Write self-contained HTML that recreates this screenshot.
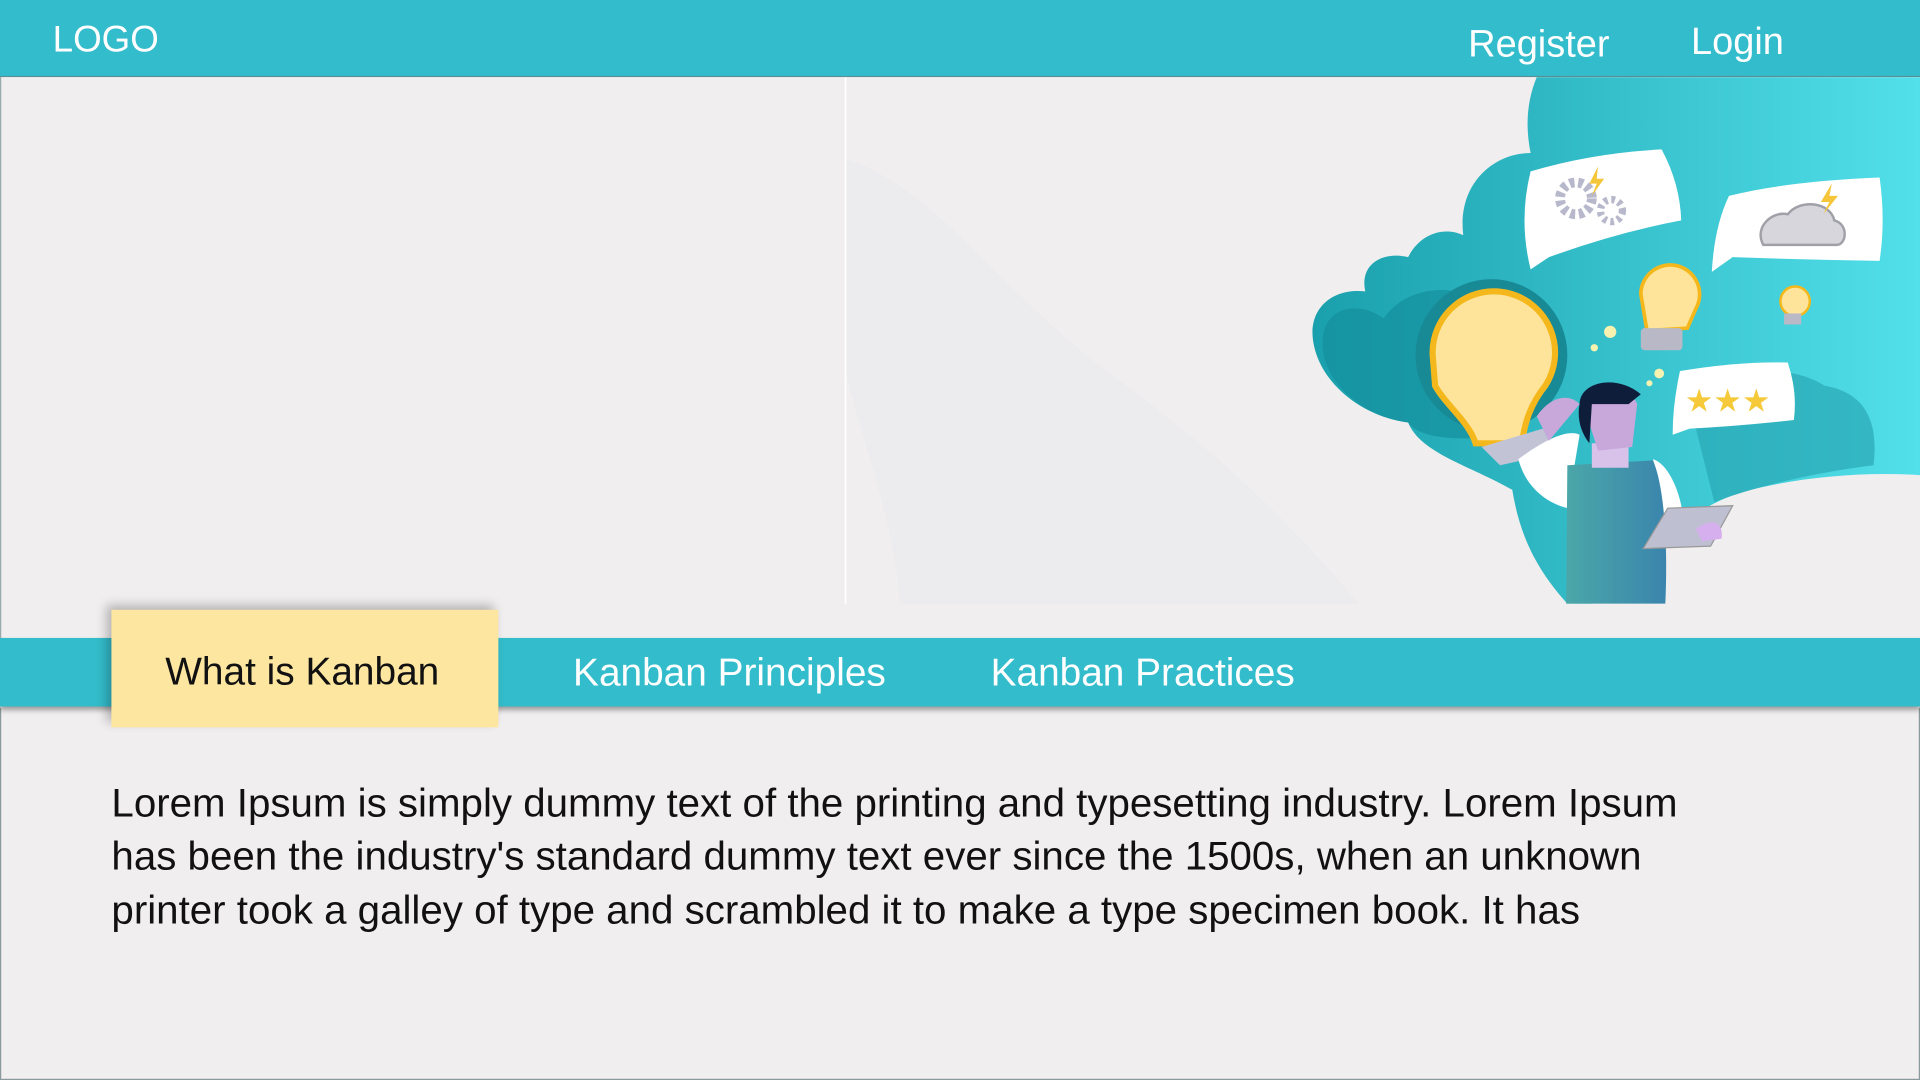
<!DOCTYPE html>
<html><head><meta charset="utf-8"><style>
html,body{margin:0;padding:0;width:1920px;height:1080px;overflow:hidden;background:#f0eeee}
#w{position:absolute;left:0;top:0;width:1568px;height:882px;transform:scale(1.22449);transform-origin:0 0;font-family:"Segoe UI","Liberation Sans",sans-serif;}
.hdr{position:absolute;left:0;top:0;width:1568px;height:62px;background:#33bccb;border-bottom:1px solid #5a8e95}
.t{position:absolute;color:#fff;font-size:31px;white-space:nowrap;z-index:3}
.hero{position:absolute;left:0;top:63px;width:1567px;height:458px;background:#f0eeee;border-left:1px solid #9aa;}
.nav{position:absolute;left:0;top:521px;width:1568px;height:56px;background:#33bccb;box-shadow:0 3px 4px rgba(0,0,0,.35);z-index:1}
.tab{position:absolute;left:91px;top:498px;width:316px;height:96px;background:#fde6a0;box-shadow:-4px -4px 8px rgba(0,0,0,.25);z-index:2}
.content{position:absolute;left:0;top:578px;width:1566px;height:303px;background:#f0eeee;border:1px solid #8a9a9c;border-top:none}
.p{position:absolute;left:91px;top:634px;font-size:32.9px;line-height:43.3px;color:#111;white-space:nowrap}
</style></head><body><div id="w">
<div class="hdr"></div>
<div class="t" style="left:43px;top:16px;font-size:30px">LOGO</div>
<div class="t" style="left:1199px;top:18px">Register</div>
<div class="t" style="left:1381px;top:16px">Login</div>
<div class="hero"></div>
<svg style="position:absolute;left:0;top:63px" width="1568" height="458" viewBox="0 63 1568 458">
<defs>
<linearGradient id="g1" x1="0" y1="0" x2="1" y2="0"><stop offset="0" stop-color="#1aa0ad"/><stop offset="1" stop-color="#52e0ea"/></linearGradient>
<linearGradient id="g2" x1="0" y1="0" x2="1" y2="0"><stop offset="0" stop-color="#4aa7a8"/><stop offset="1" stop-color="#3b85ad"/></linearGradient>
</defs>
<path d="M690 130 C760 150 820 240 900 300 C980 360 1030 400 1110 493 L735 493 C730 420 700 350 690 300Z" fill="#ececee"/>
<line x1="690.5" y1="63" x2="690.5" y2="493" stroke="#fff" stroke-width="1.5"/>
<path d="M1255 63 L1568 63 L1568 388 C1520 385 1470 390 1430 400 C1400 408 1380 420 1370 440 L1300 493 L1280 493 C1250 460 1240 430 1235 400 C1200 380 1160 370 1150 345 C1110 340 1075 310 1072 275 C1070 250 1090 235 1115 238 C1110 215 1130 205 1150 210 C1160 190 1180 185 1195 192 C1190 150 1220 125 1250 125 C1245 100 1248 80 1255 63Z" fill="url(#g1)"/>
<path d="M1080 280 C1080 250 1110 245 1130 260 C1150 230 1200 230 1215 255 L1240 355 C1200 360 1160 360 1150 345 C1110 340 1080 310 1080 280Z" fill="#148e9c" opacity=".7"/>
<path d="M1380 330 C1400 300 1460 295 1490 315 C1520 320 1535 340 1530 380 C1490 385 1440 395 1400 410Z" fill="#2aa8b5" opacity=".7"/>
<circle cx="1218" cy="290" r="62" fill="#188a96"/>
<path d="M1170 290 A50 50 0 1 1 1262 315 C1250 330 1245 345 1243 362 L1205 362 C1200 345 1180 330 1172 315Z" fill="#fee49a" stroke="#f4b81c" stroke-width="5"/>
<path d="M1210 365 L1260 350 L1270 370 L1225 380Z" fill="#c2c4d6"/>
<path d="M1250 140 Q1300 125 1357 122 Q1372 150 1373 180 Q1320 190 1265 210 L1250 220 Q1240 180 1250 140Z" fill="#fff"/>
<circle cx="1287" cy="162" r="13" fill="none" stroke="#b8b8cc" stroke-width="8" stroke-dasharray="4 3"/>
<circle cx="1316" cy="172" r="9" fill="none" stroke="#b8b8cc" stroke-width="6" stroke-dasharray="3 3"/>
<path d="M1305 136 L1298 150 L1304 150 L1300 160 L1310 146 L1304 146Z" fill="#f5c53a"/>
<path d="M1412 160 Q1460 148 1535 145 Q1540 180 1535 213 Q1470 212 1415 210 L1398 222 Q1400 185 1412 160Z" fill="#fff"/>
<path d="M1440 200 C1432 185 1448 172 1460 175 C1470 162 1495 165 1498 180 C1510 183 1508 200 1500 200Z" fill="#d6d6dc" stroke="#a0a0a8" stroke-width="2"/>
<path d="M1496 150 L1487 165 L1494 165 L1489 175 L1501 160 L1494 160Z" fill="#f5c53a"/>
<path d="M1372 303 Q1420 295 1460 296 Q1468 320 1465 343 Q1420 348 1380 350 L1366 355 Q1366 330 1372 303Z" fill="#fff"/>
<text x="1376" y="336" font-size="26" fill="#f5c93a" font-family="DejaVu Sans">★★★</text>
<path d="M1340 240 A24 24 0 1 1 1385 252 L1378 268 L1345 270Z" fill="#fee49a" stroke="#f4b81c" stroke-width="3"/>
<rect x="1340" y="268" width="34" height="18" rx="3" fill="#b8b8c6"/>
<circle cx="1466" cy="246" r="12" fill="#fee49a" stroke="#f4b81c" stroke-width="2"/>
<rect x="1457" y="256" width="14" height="9" fill="#b8b8c6"/>
<circle cx="1315" cy="271" r="5" fill="#f7f2b0"/><circle cx="1302" cy="284" r="3" fill="#f7f2b0"/>
<circle cx="1355" cy="305" r="4" fill="#f7f2b0"/><circle cx="1347" cy="313" r="2.5" fill="#f7f2b0"/>
<path d="M1240 375 C1260 360 1280 350 1290 355 L1280 415 C1260 410 1245 395 1240 375Z" fill="#fff"/>
<path d="M1350 375 C1365 380 1375 410 1375 430 L1360 432 Z" fill="#fff"/>
<path d="M1280 380 L1350 376 C1360 400 1362 450 1360 493 L1279 493Z" fill="url(#g2)"/>
<path d="M1300 362 L1330 362 L1330 382 L1300 382Z" fill="#d8c2ea"/>
<path d="M1293 330 C1300 310 1330 312 1337 330 L1333 365 L1305 368 Z" fill="#c8a8da"/>
<path d="M1290 330 C1290 312 1320 305 1340 322 L1330 330 L1300 330 L1298 362 C1290 352 1288 340 1290 330Z" fill="#0e1e3a"/>
<path d="M1255 340 C1265 325 1280 320 1290 330 L1265 360Z" fill="#c8a8da"/>
<path d="M1342 448 L1362 415 L1415 413 L1397 446Z" fill="#bfbfd2" stroke="#999" stroke-width="1"/>
<path d="M1385 432 C1395 424 1408 424 1406 440 L1390 442Z" fill="#d6b0ee"/>
</svg>
<div class="nav"></div>
<div class="tab"></div>
<div class="t" style="left:135px;top:530px;color:#111;font-size:31.7px">What is Kanban</div>
<div class="t" style="left:468px;top:531px;font-size:31.7px">Kanban Principles</div>
<div class="t" style="left:809px;top:531px;font-size:31.7px">Kanban Practices</div>
<div class="content"></div>
<div class="p">Lorem Ipsum is simply dummy text of the printing and typesetting industry. Lorem Ipsum<br>has been the industry's standard dummy text ever since the 1500s, when an unknown<br>printer took a galley of type and scrambled it to make a type specimen book. It has</div>
</div></body></html>
